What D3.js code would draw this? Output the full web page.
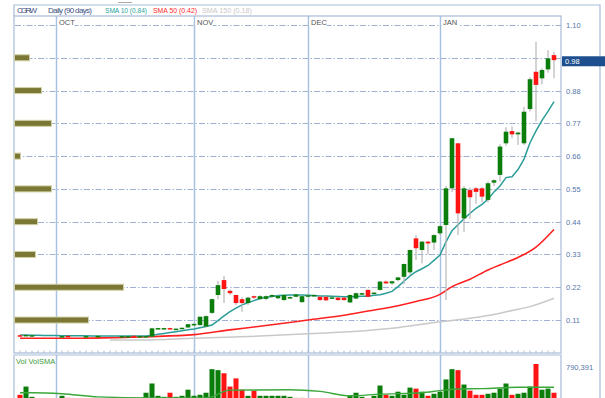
<!DOCTYPE html>
<html><head><meta charset="utf-8">
<script src="https://cdn.jsdelivr.net/npm/d3@7"></script>
<style>body{margin:0;background:#fff}svg{display:block}text{font-family:"Liberation Sans",Arial,sans-serif}</style>
</head><body><svg id="c" width="605" height="398"></svg>
<script>
// ---------------- DATA ----------------
const ticker = "CGRW";
const period = "Daily (90 days)";
const opens  = [.059,.056,.058,.059,.059,.059,.059,.052,.057,.055,.055,.054,.056,.055,.057,.057,.057,.055,.055,.057,.054,.054,.054,.081,.082,.083,.080,.082,.085,.094,.093,.088,.134,.194,.244,.208,.194,.180,.167,.190,.180,.181,.188,.183,.177,.183,.188,.170,.190,.191,.188,.188,.185,.185,.185,.169,.182,.197,.211,.199,.211,.239,.233,.244,.255,.270,.384,.345,.373,.370,.401,.429,.552,.703,.451,.546,.552,.552,.513,.571,.597,.703,.744,.733,.703,.818,.943,.921,.951,.999];
const highs  = [.060,.061,.060,.059,.059,.059,.059,.057,.057,.055,.055,.057,.056,.057,.057,.057,.057,.057,.056,.057,.056,.057,.084,.084,.084,.084,.082,.085,.097,.099,.122,.125,.182,.241,.258,.212,.196,.186,.188,.192,.193,.192,.196,.193,.196,.190,.198,.192,.195,.196,.190,.190,.187,.187,.187,.196,.202,.202,.213,.203,.241,.243,.242,.255,.300,.347,.395,.375,.376,.398,.427,.560,.722,.705,.560,.555,.556,.556,.575,.582,.700,.757,.760,.742,.826,.925,1.044,.955,1.016,1.010];
const lows   = [.056,.056,.057,.059,.059,.059,.059,.051,.055,.055,.055,.054,.056,.055,.057,.057,.057,.055,.054,.054,.054,.053,.053,.080,.081,.080,.079,.081,.084,.092,.092,.086,.130,.180,.167,.195,.160,.138,.160,.180,.178,.176,.185,.180,.175,.181,.186,.168,.189,.189,.175,.174,.183,.175,.175,.167,.180,.194,.186,.197,.209,.230,.228,.240,.230,.262,.311,.300,.330,.345,.395,.177,.540,.395,.405,.450,.500,.505,.505,.560,.574,.695,.720,.697,.697,.810,.776,.900,.940,.921];
const closes = [.056,.060,.059,.059,.059,.059,.059,.056,.055,.055,.055,.056,.056,.057,.057,.057,.057,.056,.056,.055,.056,.056,.082,.083,.083,.081,.081,.084,.096,.097,.121,.123,.180,.227,.214,.200,.167,.167,.185,.186,.190,.190,.194,.191,.194,.187,.196,.190,.193,.194,.177,.176,.186,.177,.177,.194,.200,.200,.188,.202,.239,.233,.240,.253,.298,.345,.351,.373,.367,.395,.425,.552,.720,.468,.552,.522,.540,.524,.569,.579,.692,.742,.733,.739,.809,.918,.899,.949,.988,.982];
const volumes = [166000,333000,125000,0,0,0,0,146000,104000,0,0,60000,0,60000,0,0,0,40000,40000,104000,60000,208000,395000,146000,125000,208000,125000,146000,270000,146000,166000,208000,686000,666000,603000,333000,499000,270000,146000,250000,146000,146000,146000,146000,146000,125000,104000,104000,60000,80000,80000,80000,60000,80000,80000,146000,208000,125000,80000,146000,354000,166000,146000,229000,166000,312000,291000,229000,146000,187000,229000,478000,686000,666000,374000,250000,166000,166000,187000,208000,291000,395000,166000,187000,208000,333000,790391,270000,291000,208000];
const sma10 = [.060,.060,.059,.059,.058,.058,.058,.057,.057,.057,.057,.057,.056,.056,.056,.056,.056,.056,.056,.056,.056,.056,.059,.062,.065,.068,.071,.074,.077,.080,.084,.088,.093,.108,.124,.138,.150,.161,.168,.175,.182,.186,.189,.192,.193,.194,.194,.194,.193,.192,.191,.191,.190,.189,.188,.188,.189,.190,.190,.193,.195,.200,.206,.222,.240,.258,.272,.282,.293,.310,.328,.372,.410,.430,.450,.468,.485,.498,.515,.540,.560,.588,.591,.615,.650,.705,.745,.780,.810,.843];
const sma50Idx = [0,10,16,21,29,35,40,48,54,58,63,66,70,72,75,78,80,83,86,89];
const sma50Val = [.049,.049,.051,.054,.061,.077,.089,.110,.126,.140,.158,.172,.196,.222,.247,.278,.295,.320,.355,.414];
const sma150Idx = [15,20,29,40,50,58,62,70,75,80,82,85,89];
const sma150Val = [.043,.043,.049,.056,.066,.075,.082,.104,.116,.133,.142,.155,.183];
const volSmaIdx = [0,2,7,13,22,31,35,45,50,55,60,67,70,73,77,83,89];
const volSmaVal = [208000,208000,187000,125000,104000,104000,260000,270000,235000,146000,180000,208000,250000,285000,291000,318000,318000];
const months = ["OCT","NOV","DEC","JAN"];
const monthIdx = [6,29,48,70];
const priceTicks = [0.11,0.22,0.33,0.44,0.55,0.66,0.77,0.88,0.99,1.10];
const vbpLevels = [0.99,0.88,0.77,0.66,0.55,0.44,0.33,0.22,0.11];
const vbpVolumes = [15,27,37,6,37,23,21,109,74];
const legendNames = ["SMA 10","SMA 50","SMA 150"];
const legendValues = [0.84,0.42,0.18];
const lastPrice = 0.98;

// ---------------- DRAW ----------------
const svg = d3.select("#c");
const L = 14, R = 561, T = 16, B = 353, OR = 600;
const VT = 355, VB = 403;
const n = closes.length;
const x = d3.scaleLinear().domain([0, n-1]).range([20, 554]);
const y = d3.scaleLinear().domain([0, 1.10]).range([352.8, 25]);
const yv = d3.scaleLinear().domain([0, d3.max(volumes)]).range([VB, 364]);
const frame = "#a8bcd8";
const green = "#0a7d0a", red = "#ff1414";

svg.append("rect").attr("width",605).attr("height",398).attr("fill","#fff");

// header band + frames
svg.append("path").attr("d",`M${L},${T}V5H${OR}V398`).attr("fill","none").attr("stroke",frame).attr("stroke-width",1.2);
svg.append("rect").attr("x",L).attr("y",T).attr("width",R-L).attr("height",B-T).attr("fill","none").attr("stroke",frame).attr("stroke-width",1.2);
svg.append("path").attr("d",`M${L},400V${VT}H${R}V400`).attr("fill","none").attr("stroke",frame).attr("stroke-width",1.2);
svg.append("line").attr("x1",118).attr("x2",132).attr("y1",2.5).attr("y2",2.5).attr("stroke","#aaa");

// legend
const hdr = svg.append("g").attr("font-size",8);
hdr.append("text").attr("x",17).attr("y",13).attr("fill","#3b4f80").attr("textLength",20).text(ticker);
hdr.append("text").attr("x",48).attr("y",13).attr("fill","#3b4f80").attr("textLength",44).text(period);
const legCol = ["#2aa39c","#ff2a2a","#c8c8c8"];
const legX = [105,153,202];
const legW = [42,44,50];
legendNames.forEach((nm,i)=>{
  hdr.append("text").attr("x",legX[i]).attr("y",13).attr("fill",legCol[i]).attr("textLength",legW[i])
    .attr("lengthAdjust","spacingAndGlyphs")
    .text(`${nm} (${legendValues[i].toFixed(2)})`);
});

// gridlines
const plot = svg.append("g");
plot.selectAll("line.g").data(priceTicks).join("line")
  .attr("x1",L+1).attr("x2",R).attr("y1",d=>Math.round(y(d))+0.5).attr("y2",d=>Math.round(y(d))+0.5)
  .attr("stroke","#9fb2d3").attr("stroke-width",1).attr("stroke-dasharray","6,2,1.5,2");

// month lines
monthIdx.forEach((mi,k)=>{
  const mx = Math.round(x(mi))+0.5;
  svg.append("line").attr("x1",mx).attr("x2",mx).attr("y1",T).attr("y2",B).attr("stroke","#a9c1e0").attr("stroke-width",1.5);
  svg.append("line").attr("x1",mx).attr("x2",mx).attr("y1",VT).attr("y2",398).attr("stroke","#a9c1e0").attr("stroke-width",1.5);
  svg.append("rect").attr("x",mx+1).attr("y",18).attr("width",17).attr("height",8).attr("fill","#fff");
  svg.append("text").attr("x",mx+2.5).attr("y",24.5).attr("font-size",7.5).attr("fill","#555").text(months[k]);
});

// volume by price
const wv = d3.scaleLinear().domain([0, d3.max(vbpVolumes)]).range([0,109]);
svg.selectAll("rect.vbp").data(vbpLevels).join("rect")
  .attr("x",L+0.5).attr("y",d=>y(d)-3).attr("height",6).attr("width",(d,i)=>wv(vbpVolumes[i]))
  .attr("fill","#7b7835").attr("stroke","#d2d0a6").attr("stroke-width",1);

// SMA lines
const line = d3.line().x(d=>x(d[0])).y(d=>y(d[1])).curve(d3.curveMonotoneX);
svg.append("path").attr("d",line(sma150Idx.map((d,i)=>[d,sma150Val[i]]))).attr("fill","none").attr("stroke","#c9c9c9").attr("stroke-width",1.5);
svg.append("path").attr("d",line(sma50Idx.map((d,i)=>[d,sma50Val[i]]))).attr("fill","none").attr("stroke","#ff2020").attr("stroke-width",1.6);
svg.append("path").attr("d",d3.line().x((d,i)=>x(i)).y(d=>y(d))(sma10)).attr("fill","none").attr("stroke","#2a9d98").attr("stroke-width",1.5);

// candles (days without trades are not drawn)
const cg = svg.append("g");
closes.forEach((c,i)=>{
  if(!volumes[i]) return;
  const o = opens[i], up = c >= o;
  const cx = x(i);
  cg.append("line").attr("x1",cx).attr("x2",cx).attr("y1",y(highs[i])).attr("y2",y(lows[i])).attr("stroke","#b8b8b8").attr("stroke-width",1.2);
  const top = y(Math.max(o,c)), bot = y(Math.min(o,c));
  cg.append("rect").attr("x",cx-2.3).attr("width",4.6).attr("y",top).attr("height",Math.max(1.5,bot-top))
    .attr("fill",up?green:red);
});

// bottom ticks
svg.selectAll("line.tk").data(d3.range(n)).join("line")
  .attr("x1",d=>x(d)).attr("x2",d=>x(d)).attr("y1",B-2.5).attr("y2",B).attr("stroke",frame);

// right axis (labels hidden behind the last-price tag are skipped)
svg.selectAll("text.ax").data(priceTicks.filter(d=>Math.abs(y(d)-y(lastPrice))>8)).join("text")
  .attr("x",566).attr("y",d=>y(d)+3).attr("font-size",7.5).attr("fill","#5577aa").text(d=>d.toFixed(2));
svg.append("rect").attr("x",562).attr("y",y(lastPrice)-4.5).attr("width",43).attr("height",10).attr("fill","#1d4f8e");
svg.append("text").attr("x",565).attr("y",y(lastPrice)+3).attr("font-size",7.5).attr("fill","#fff").text(lastPrice.toFixed(2));

// volume panel
const vg = svg.append("g");
volumes.forEach((v,i)=>{
  if(!v) return;
  vg.append("rect").attr("x",x(i)-2.5).attr("width",5).attr("y",yv(v)).attr("height",VB-yv(v))
    .attr("fill",closes[i]>=opens[i]?green:red);
});
svg.append("path").attr("d",d3.line().x(d=>x(d[0])).y(d=>yv(d[1])).curve(d3.curveMonotoneX)(volSmaIdx.map((d,i)=>[d,volSmaVal[i]])))
  .attr("fill","none").attr("stroke","#3aa83a").attr("stroke-width",1.4);
svg.append("text").attr("x",16).attr("y",364).attr("font-size",7.5).attr("fill","#3a9a3a").text("Vol VolSMA");
svg.append("text").attr("x",566).attr("y",370).attr("font-size",7.5).attr("fill","#5577aa").text(d3.format(",")(d3.max(volumes)));
</script></body></html>
